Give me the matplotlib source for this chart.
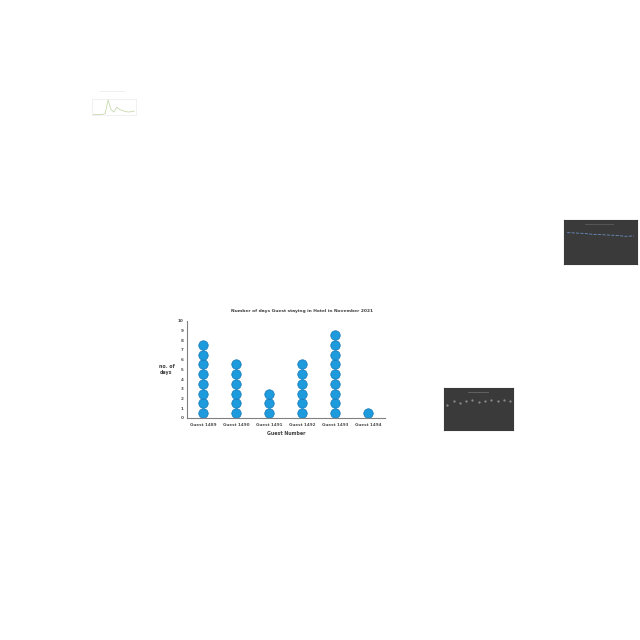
import matplotlib
matplotlib.use("Agg")
import matplotlib.pyplot as plt
import numpy as np

# main dot plot
guests = ['Guest 1489', 'Guest 1490', 'Guest 1491', 'Guest 1492', 'Guest 1493', 'Guest 1494']
days = [8, 6, 3, 6, 9, 1]
yticks = [0, 1, 2, 3, 4, 5, 6, 7, 8, 9, 10]

# little thumbnails scattered around the page
thumb1_vals = [1, 1, 1, 1, 1.2, 4, 2, 1.5, 2.5, 2, 1.8, 1.6, 1.5, 1.6, 1.7]
thumb2_vals = [7.5, 7.4, 7.3, 7.1, 7.0, 6.9, 6.8, 6.6, 6.7]
thumb3_vals = [6, 7, 6.5, 7, 7.2, 6.8, 7.1, 7.3, 7.0, 7.2, 6.9]

fig = plt.figure(figsize=(6.4, 6.4), dpi=100)
fig.patch.set_facecolor('white')

ax = fig.add_axes([0.292, 0.347, 0.309, 0.152])
for i, n in enumerate(days):
  ys = np.arange(n) + 0.5
  ax.plot([i]*n, ys, 'o', color='#1E9BDD', markeredgecolor='#1577B5',
          markeredgewidth=0.5, markersize=6.8, linestyle='none')
ax.set_xlim(-0.5, 5.5)
ax.set_ylim(0, 10)
ax.set_yticks(yticks)
ax.set_xticks(range(len(guests)))
ax.set_xticklabels(guests, fontsize=3.0, color='#505050', fontweight='bold')
ax.set_yticklabels([str(t) for t in yticks], fontsize=3.0, color='#505050', fontweight='bold')
ax.tick_params(axis='y', length=0, pad=2.5)
ax.tick_params(axis='x', length=0, pad=4)
for s in ['top', 'right']:
  ax.spines[s].set_visible(False)
for s in ['left', 'bottom']:
  ax.spines[s].set_color('#808080')
  ax.spines[s].set_linewidth(0.8)
fig.text(302/640, 1-311/640, 'Number of days Guest staying in Hotel in November 2021',
         fontsize=3.2, fontweight='bold', color='#404040', ha='center', va='center')
ax.set_xlabel('Guest Number', fontsize=3.4, fontweight='bold', color='#404040', labelpad=2.5)
ax.set_ylabel('no. of\ndays', fontsize=3.4, fontweight='bold', color='#404040',
              rotation=0, labelpad=8, va='center')

# thumbnail 1 (light)
t1 = fig.add_axes([0.143, 0.82, 0.07, 0.025])
t1.plot(range(len(thumb1_vals)), thumb1_vals, color='#c8d8b0', lw=0.6)
t1.set_xticks([]); t1.set_yticks([])
for s in t1.spines.values():
  s.set_color('#e6e6e6'); s.set_linewidth(0.4)
fig.text(0.177, 0.857, 'xxxxxxxxxxxxxxxxxxxxxxxxxx', fontsize=1.2, color='#d0d0d0', ha='center')

# thumbnail 2 (dark)
t2 = fig.add_axes([0.881, 0.588, 0.115, 0.068])
t2.set_facecolor('#3a3a3a')
t2.plot(range(len(thumb2_vals)), thumb2_vals, color='#6a8fbf', lw=0.6, ls='--')
t2.set_ylim(0, 10.5)
t2.set_xticks([]); t2.set_yticks([])
for s in t2.spines.values():
  s.set_color('#3a3a3a')
fig.text(0.938, 0.648, 'xxxxxxxxxxxxxxxxxxxxxxxxxxxxxx', fontsize=1.2, color='#909090', ha='center')

# thumbnail 3 (dark)
t3 = fig.add_axes([0.694, 0.328, 0.108, 0.065])
t3.set_facecolor('#3a3a3a')
t3.plot(range(len(thumb3_vals)), thumb3_vals, 'o', color='#909090', markersize=0.6)
t3.set_ylim(0, 10)
t3.set_xticks([]); t3.set_yticks([])
for s in t3.spines.values():
  s.set_color('#3a3a3a')
fig.text(0.748, 0.386, 'xxxxxxxxxxxxxxxxxxxxxx', fontsize=1.2, color='#b0b0b0', ha='center')

plt.savefig('out.png', dpi=100)
plt.close()
